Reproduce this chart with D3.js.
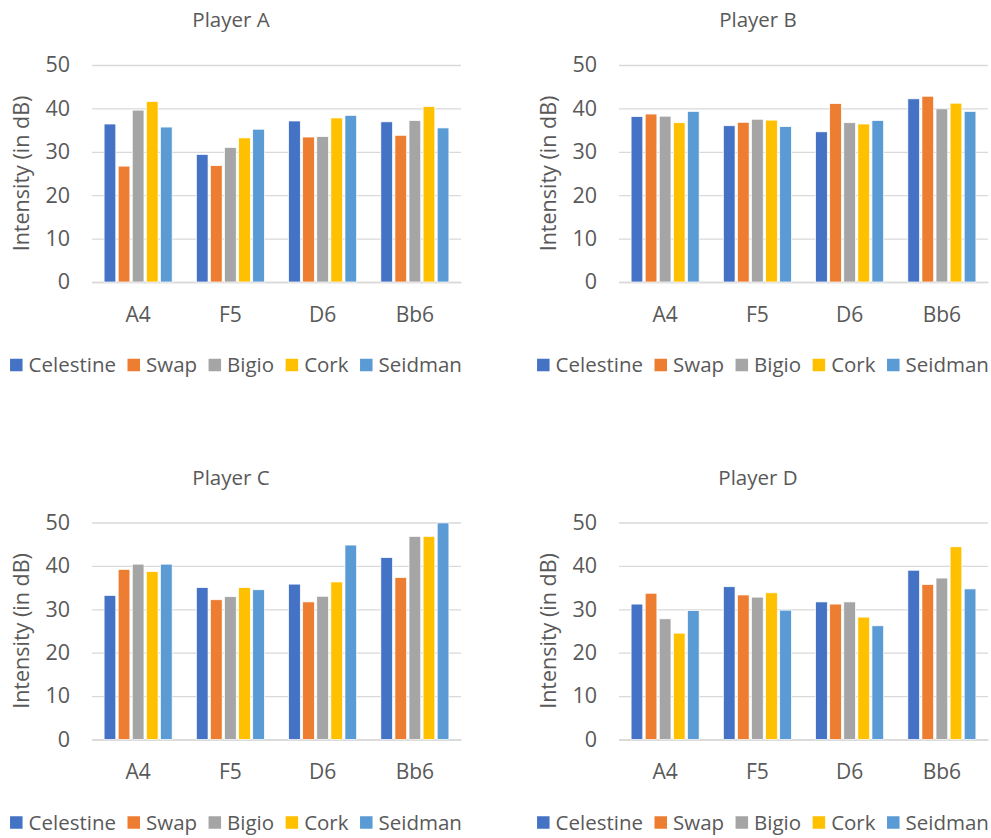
<!DOCTYPE html>
<html>
<head>
<meta charset="utf-8">
<script src="https://cdn.jsdelivr.net/npm/d3@7"></script>
<style>
  html, body { margin: 0; padding: 0; background: #ffffff; }
  svg text { font-family: "Open Sans", "Noto Sans", sans-serif; fill: #595959; }
</style>
</head>
<body>
<svg id="chart" width="991" height="838"></svg>
<script>
// Notes and players
const categories = ["A4", "F5", "D6", "Bb6"];
const seriesNames = ["Celestine", "Swap", "Bigio", "Cork", "Seidman"];
const seriesColors = ["#4472C4", "#ED7D31", "#A5A5A5", "#FFC000", "#5B9BD5"];
const yTicks = [0, 10, 20, 30, 40, 50];
const players = ["Player A", "Player B", "Player C", "Player D"];

// Intensity in dB, one row per note, one column per series
const playerA = [
  [36.4, 26.7, 39.6, 41.6, 35.7],
  [29.4, 26.8, 31.0, 33.2, 35.2],
  [37.1, 33.4, 33.5, 37.8, 38.4],
  [36.9, 33.8, 37.2, 40.4, 35.5]
];
const playerB = [
  [38.1, 38.7, 38.2, 36.7, 39.3],
  [36.0, 36.8, 37.5, 37.3, 35.8],
  [34.6, 41.1, 36.7, 36.4, 37.2],
  [42.2, 42.8, 39.9, 41.2, 39.3]
];
const playerC = [
  [33.2, 39.2, 40.4, 38.7, 40.4],
  [35.0, 32.2, 32.9, 35.0, 34.5],
  [35.8, 31.7, 33.0, 36.3, 44.8],
  [41.9, 37.3, 46.8, 46.8, 49.9]
];
const playerD = [
  [31.2, 33.7, 27.8, 24.5, 29.7],
  [35.2, 33.3, 32.8, 33.8, 29.8],
  [31.7, 31.2, 31.7, 28.2, 26.2],
  [39.0, 35.7, 37.2, 44.4, 34.7]
];
const playerValues = [playerA, playerB, playerC, playerD];

const svg = d3.select("#chart");

// Panel geometry (relative to the panel origin)
const plot = { left: 92, right: 461, top: 65, bottom: 282 };
const panelOffsets = [[0, 0], [527, 0], [0, 457.5], [527, 457.5]];

function drawPanel(g, title, values) {
  const x = d3.scaleBand().domain(categories).range([plot.left, plot.right]).paddingInner(0).paddingOuter(0);
  const groupPad = 12.1;
  const xs = d3.scaleBand().domain(seriesNames)
    .range([groupPad, x.bandwidth() - groupPad]).paddingInner(0.17).paddingOuter(0);
  const y = d3.scaleLinear().domain([0, 50]).range([plot.bottom, plot.top]);

  // Title
  g.append("text")
    .attr("x", 231).attr("y", 27)
    .attr("text-anchor", "middle")
    .style("font-size", "20.5px")
    .text(title);

  // Gridlines
  const yAxis = d3.axisLeft(y).tickValues(yTicks).tickSize(-(plot.right - plot.left)).tickPadding(22);
  const ga = g.append("g").attr("transform", `translate(${plot.left},0)`).call(yAxis);
  ga.select(".domain").remove();
  ga.selectAll(".tick line").attr("stroke", "#d9d9d9").attr("stroke-width", 1.3);
  ga.selectAll(".tick text").style("font-size", "21.5px").attr("fill", "#595959");

  // Category axis
  const xAxis = d3.axisBottom(x).tickSize(0).tickPadding(25);
  const gx = g.append("g").attr("transform", `translate(0,${plot.bottom})`).call(xAxis);
  gx.select(".domain").attr("stroke", "#d9d9d9").attr("stroke-width", 1.3);
  gx.selectAll(".tick text").style("font-size", "21px").attr("fill", "#595959");

  // Bars
  const groups = g.append("g").selectAll("g")
    .data(categories)
    .join("g")
    .attr("transform", d => `translate(${x(d)},0)`);
  groups.selectAll("rect")
    .data((d, i) => values[i].map((v, j) => ({ name: seriesNames[j], value: v, color: seriesColors[j] })))
    .join("rect")
    .attr("x", d => xs(d.name))
    .attr("width", xs.bandwidth())
    .attr("y", d => y(d.value))
    .attr("height", d => y(0) - y(d.value))
    .attr("fill", d => d.color)
    .attr("stroke", "#ffffff")
    .attr("stroke-width", 0.7);

  // Y axis title
  g.append("text")
    .attr("transform", `translate(29,${(plot.top + plot.bottom) / 2}) rotate(-90)`)
    .attr("text-anchor", "middle")
    .style("font-size", "21.5px")
    .text("Intensity (in dB)");

  // Legend
  const legend = g.append("g");
  const sq = 12.5, gapText = 6, gapItem = 11.5;
  let cx = 0;
  const items = legend.selectAll("g")
    .data(seriesNames)
    .join("g");
  items.append("rect")
    .attr("width", sq).attr("height", sq)
    .attr("y", -sq / 2)
    .attr("fill", (d, i) => seriesColors[i]);
  items.append("text")
    .attr("x", sq + gapText)
    .attr("dy", "0.35em")
    .style("font-size", "20.5px")
    .text(d => d);
  items.each(function () {
    const w = this.querySelector("text").getComputedTextLength();
    d3.select(this).attr("transform", `translate(${cx},0)`);
    cx += sq + gapText + w + gapItem;
  });
  const total = cx - gapItem;
  legend.attr("transform", `translate(${236 - total / 2},${365})`);
}

players.forEach((p, i) => {
  const g = svg.append("g").attr("transform", `translate(${panelOffsets[i][0]},${panelOffsets[i][1]})`);
  drawPanel(g, p, playerValues[i]);
});
</script>
</body>
</html>
